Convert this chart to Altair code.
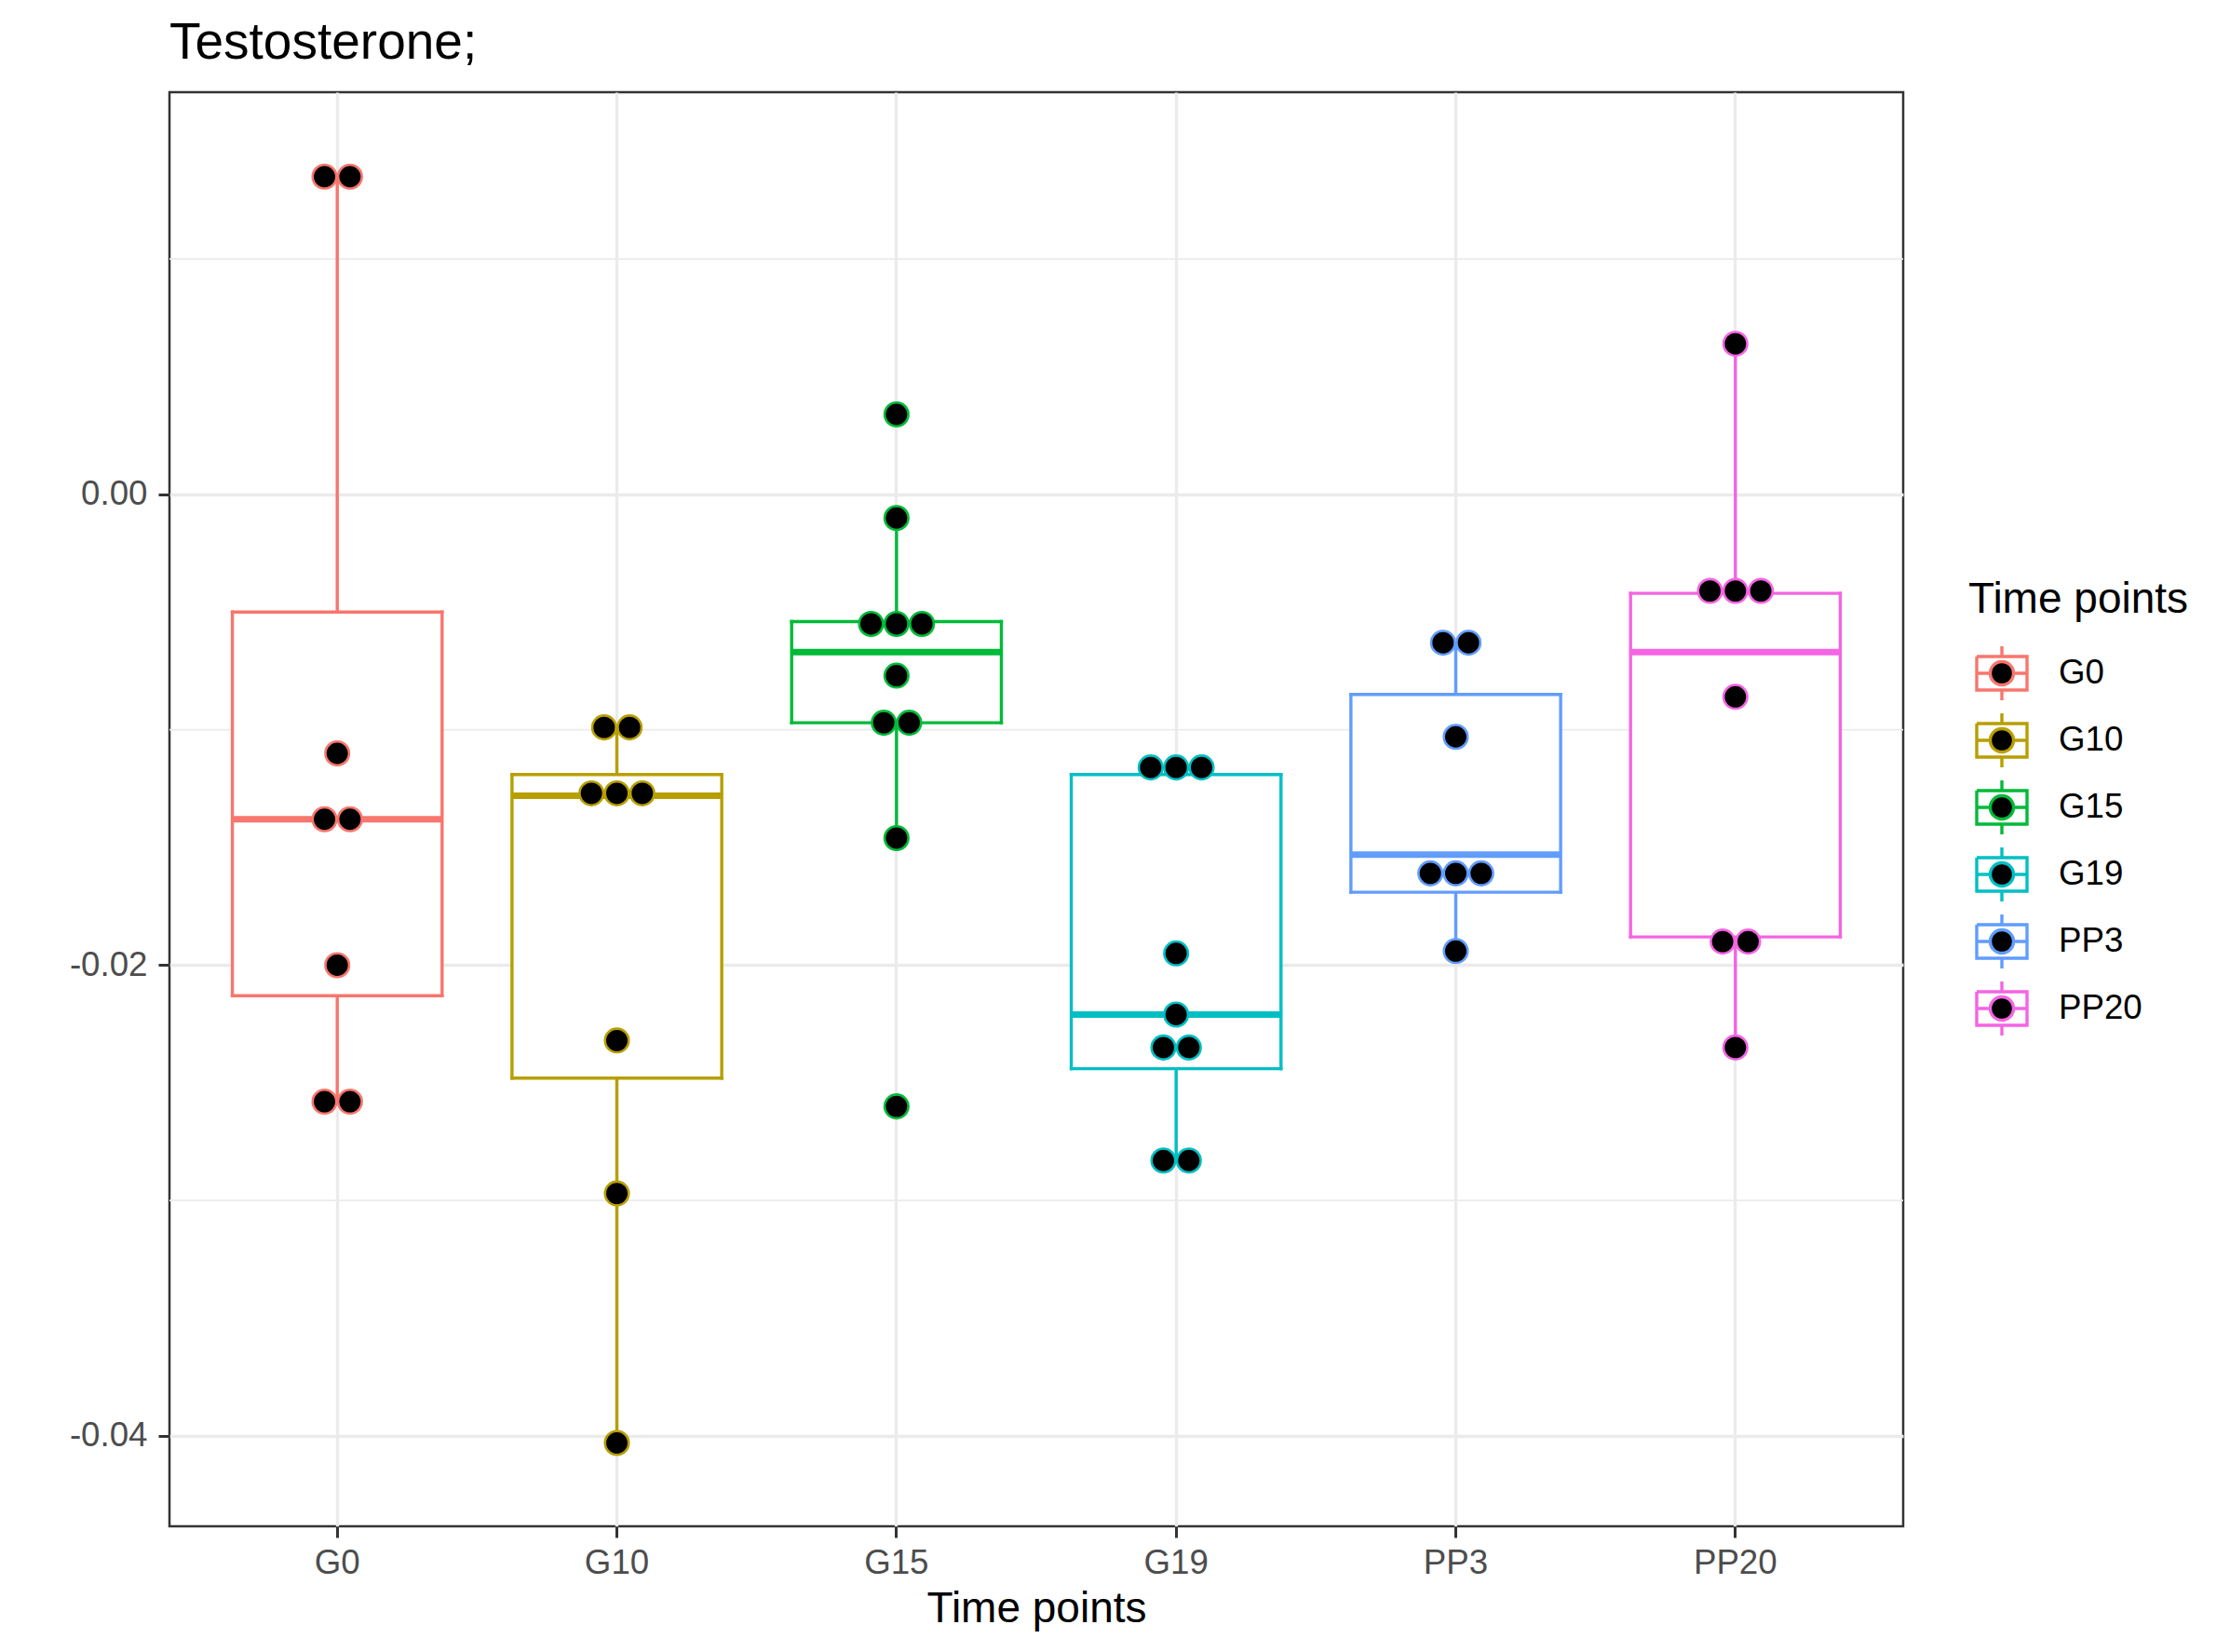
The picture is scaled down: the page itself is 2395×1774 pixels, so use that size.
import altair as alt
import pandas as pd

FONT = "Liberation Sans"

# ---------------- data ----------------
categories = ["G0", "G10", "G15", "G19", "PP3", "PP20"]
colors = ["#F8766D", "#B79F00", "#00BA38", "#00BFC4", "#619CFF", "#F564E3"]

whisker_low = [-0.0258, -0.0403, -0.0146, -0.0283, -0.0194, -0.0235]
box_q1 = [-0.0213, -0.0248, -0.0097, -0.0244, -0.0169, -0.0188]
box_median = [-0.0138, -0.0128, -0.0067, -0.0221, -0.0153, -0.0067]
box_q3 = [-0.0050, -0.0119, -0.0054, -0.0119, -0.0085, -0.0042]
whisker_high = [0.0135, -0.0099, -0.0010, -0.0116, -0.0063, 0.0064]

dots_G0 = [0.0135, 0.0135, -0.0110, -0.0138, -0.0138, -0.0200, -0.0258, -0.0258]
dots_G10 = [-0.0099, -0.0099, -0.0127, -0.0127, -0.0127, -0.0232, -0.0297, -0.0403]
dots_G15 = [0.0034, -0.0010, -0.0055, -0.0055, -0.0055, -0.0077, -0.0097, -0.0097, -0.0146, -0.0260]
dots_G19 = [-0.0116, -0.0116, -0.0116, -0.0195, -0.0221, -0.0235, -0.0235, -0.0283, -0.0283]
dots_PP3 = [-0.0063, -0.0063, -0.0103, -0.0161, -0.0161, -0.0161, -0.0194]
dots_PP20 = [0.0064, -0.0041, -0.0041, -0.0041, -0.0086, -0.0190, -0.0190, -0.0235]

minor_breaks = [-0.03, -0.01, 0.01]
major_breaks = [-0.04, -0.02, 0.0]

# ---------------- tables ----------------
df_box = pd.DataFrame({
    "cat": categories,
    "idx": list(range(len(categories))),
    "lower": whisker_low,
    "q1": box_q1,
    "median": box_median,
    "q3": box_q3,
    "upper": whisker_high,
})

dot_lists = [dots_G0, dots_G10, dots_G15, dots_G19, dots_PP3, dots_PP20]
rows = []
for i, (cat, vals) in enumerate(zip(categories, dot_lists)):
    counts = {}
    for v in vals:
        counts[v] = counts.get(v, 0) + 1
    seen = {}
    for v in vals:
        k = seen.get(v, 0)
        seen[v] = k + 1
        n = counts[v]
        rows.append({"cat": cat, "idx": i, "value": v, "slot": k - (n - 1) / 2})
df_dots = pd.DataFrame(rows)

df_minor = pd.DataFrame({"v": minor_breaks})

# ---------------- styling ----------------
W, H = 1862, 1540
PAD_OUTER = 0.1
BOX_FRAC = 0.75
DOT_STEP = 0.091  # horizontal stacking distance of dots, in category units
LINE_W = 3.4

y_scale = alt.Scale(domain=[-0.04384, 0.01709], nice=False, zero=False)
y_axis = alt.Axis(
    values=major_breaks,
    labelExpr="replace(format(datum.value, '.2f'), '\u2212', '-')",
    labelFontSize=36.7, labelColor="#4D4D4D", labelFont=FONT,
    labelPadding=12, tickSize=12, tickColor="#333333", tickWidth=3,
    domain=False, grid=True, gridColor="#EBEBEB", gridWidth=3.3,
)
stroke_scale = alt.Scale(domain=categories, range=colors)
xq_scale = alt.Scale(domain=[-0.5 - PAD_OUTER, len(categories) - 0.5 + PAD_OUTER],
                     nice=False, zero=False)

# legend key glyph (in px of a 72px key), converted to the symbol's unit square
KEY = 72.0
SYM = KEY - LINE_W
h = SYM / 2.0


def u(px):
    return round(px / h, 4)


bx, by, wy, rr = u(27), u(18), u(29), u(12.5)
kk = round(0.5523 * rr, 4)
glyph = (
    f"M{-bx},{-by}L{bx},{-by}L{bx},{by}L{-bx},{by}L{-bx},{-by}"
    f"L{-bx},{by}L{bx},{by}L{bx},{-by}L{-bx},{-by}"
    f"M0,{-wy}L0,{-by}M0,{by}L0,{wy}"
    f"M{-bx},0L{-rr},0M{rr},0L{bx},0"
    f"M{rr},0C{rr},{kk} {kk},{rr} 0,{rr}C{-kk},{rr} {-rr},{kk} {-rr},0"
    f"C{-rr},{-kk} {-kk},{-rr} 0,{-rr}C{kk},{-rr} {rr},{-kk} {rr},0Z"
)

legend = alt.Legend(
    title="Time points", orient="none", direction="vertical",
    legendX=1932, legendY=523,
    symbolType=glyph, symbolSize=SYM * SYM, symbolStrokeWidth=LINE_W,
    symbolFillColor="black", symbolOpacity=1,
    labelFontSize=36.7, labelFont=FONT, labelColor="black", labelOffset=25,
    titleFontSize=46, titleFont=FONT, titleColor="black", titleFontWeight="normal",
    titlePadding=19, titleLimit=0, rowPadding=0, padding=0,
)

x_band = alt.X(
    "cat:N",
    scale=alt.Scale(domain=categories, paddingInner=0, paddingOuter=PAD_OUTER),
    title="Time points",
    axis=alt.Axis(
        labelAngle=0, labelFontSize=36.7, labelColor="#4D4D4D", labelFont=FONT,
        labelPadding=9, tickSize=12, tickColor="#333333", tickWidth=3,
        titleFontSize=46, titleFont=FONT, titleColor="black", titleFontWeight="normal",
        titlePadding=9, domain=False, grid=True, gridColor="#EBEBEB", gridWidth=3.3,
        bandPosition=0.5,
    ),
)

stroke_enc = alt.Stroke("cat:N", scale=stroke_scale, legend=legend)


def ypos(field):
    return alt.Y(field, type="quantitative", scale=y_scale, axis=y_axis, title=None)


def xpos(field):
    return alt.X(field, type="quantitative", scale=xq_scale, axis=None)


# ---- layer A: band-scale x (axis, grid, box fill, whiskers) ----
minor_grid = alt.Chart(df_minor).mark_rule(color="#EBEBEB", strokeWidth=1.7).encode(
    y=ypos("v")
)
base = alt.Chart(df_box)
box_fill = base.mark_bar(
    color="white", width=alt.RelativeBandSize(BOX_FRAC), opacity=1
).encode(x=x_band, y=ypos("q1"), y2="q3:Q")
whisk_lo = base.mark_rule(strokeWidth=LINE_W).encode(
    x=x_band, y=ypos("lower"), y2="q1:Q", stroke=stroke_enc
)
whisk_hi = base.mark_rule(strokeWidth=LINE_W).encode(
    x=x_band, y=ypos("q3"), y2="upper:Q", stroke=stroke_enc
)
layer_a = alt.layer(minor_grid, box_fill, whisk_lo, whisk_hi)

# ---- layer B: quantitative x (box outline, median, dots) ----
base_q = alt.Chart(df_box).transform_calculate(
    lo=f"datum.idx - {BOX_FRAC / 2}", hi=f"datum.idx + {BOX_FRAC / 2}"
)
edge_top = base_q.mark_rule(strokeWidth=LINE_W, strokeCap="square").encode(
    x=xpos("lo"), x2="hi:Q", y=ypos("q3"), stroke=stroke_enc
)
edge_bottom = base_q.mark_rule(strokeWidth=LINE_W, strokeCap="square").encode(
    x=xpos("lo"), x2="hi:Q", y=ypos("q1"), stroke=stroke_enc
)
edge_left = base_q.mark_rule(strokeWidth=LINE_W, strokeCap="square").encode(
    x=xpos("lo"), y=ypos("q1"), y2="q3:Q", stroke=stroke_enc
)
edge_right = base_q.mark_rule(strokeWidth=LINE_W, strokeCap="square").encode(
    x=xpos("hi"), y=ypos("q1"), y2="q3:Q", stroke=stroke_enc
)
med = base_q.mark_rule(strokeWidth=7, strokeCap="butt").encode(
    x=xpos("lo"), x2="hi:Q", y=ypos("median"), stroke=stroke_enc
)
dots = alt.Chart(df_dots).transform_calculate(
    xp=f"datum.idx + datum.slot * {DOT_STEP}"
).mark_point(
    filled=True, fill="black", size=650, strokeWidth=2.6, opacity=1
).encode(
    x=xpos("xp"), y=ypos("value"), stroke=stroke_enc
)
layer_b = alt.layer(edge_top, edge_bottom, edge_left, edge_right, med, dots)

chart = alt.layer(layer_a, layer_b).resolve_scale(
    x="independent"
).properties(
    width=W, height=H,
    background="white",
    title=alt.TitleParams(
        "Testosterone;", anchor="start", frame="group", fontSize=55, font=FONT,
        fontWeight="normal", color="black", offset=24,
    ),
    autosize=alt.AutoSizeParams(type="none"),
    padding={"left": 174, "top": 91, "right": 340, "bottom": 125},
).configure_view(
    stroke="#333333", strokeWidth=2.5
)

chart.save("out.html", embed_options={"renderer": "svg", "actions": False})
